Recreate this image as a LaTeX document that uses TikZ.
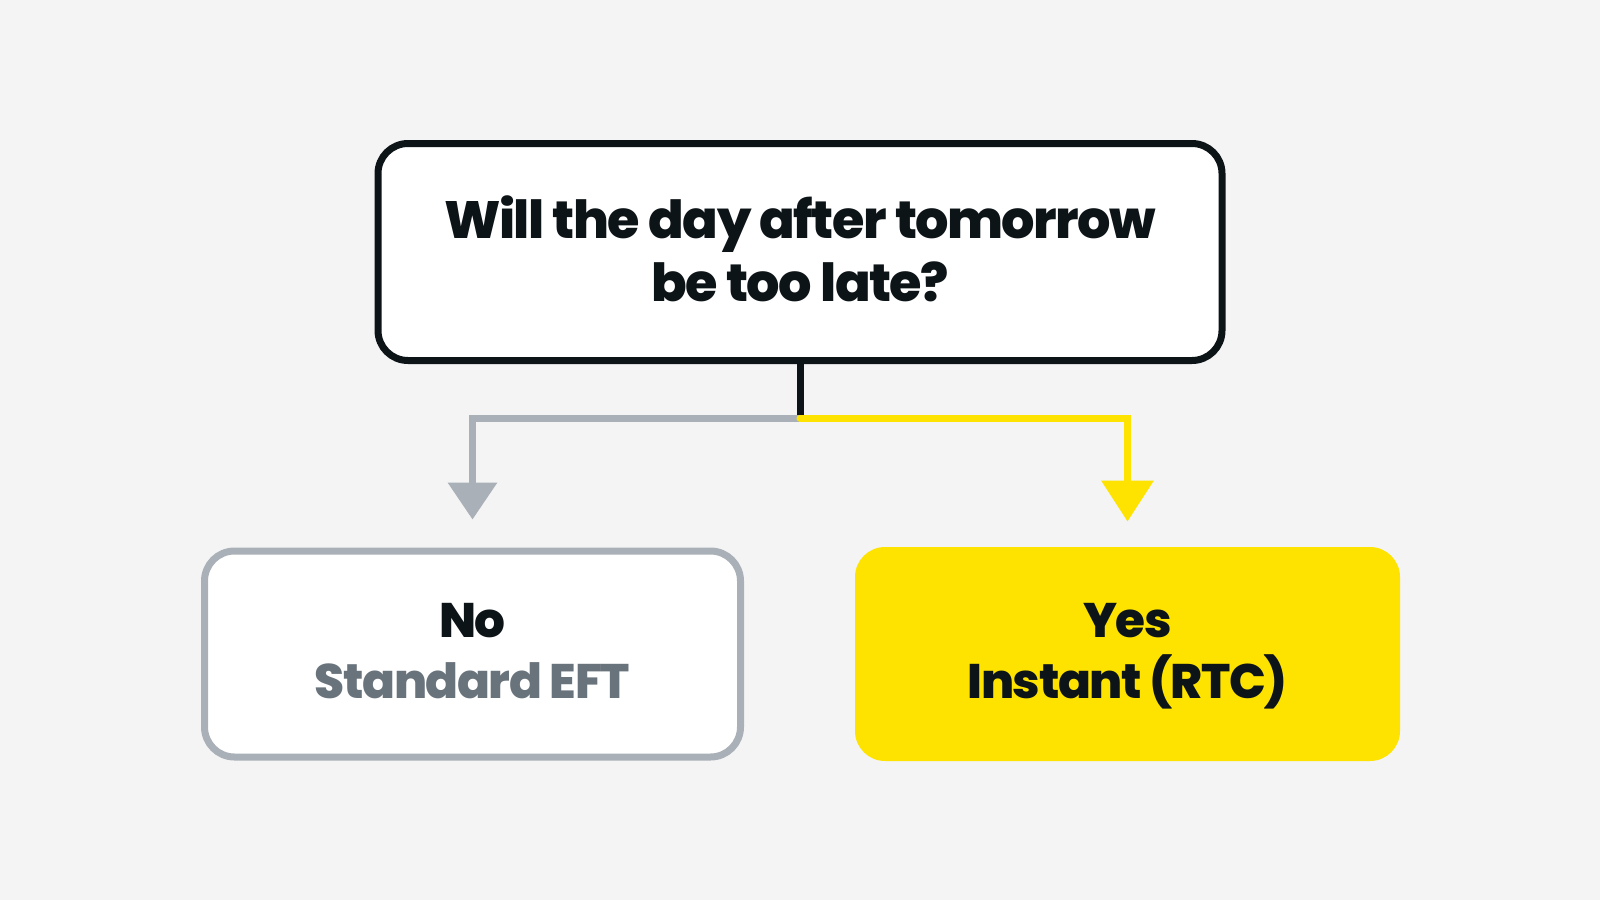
\documentclass[tikz,border=0pt]{standalone}
\usepackage{fontspec}
\setmainfont{Poppins}[BoldFont={Poppins ExtraBold},LetterSpace=-3]
\usepackage{tikz}
\usepackage{color}
\usetikzlibrary{arrows.meta, positioning}

\definecolor{ink}{HTML}{0D1417}
\definecolor{slate}{HTML}{A9B0B8}
\definecolor{slatetext}{HTML}{69737C}
\definecolor{sun}{HTML}{FEE300}
\definecolor{paper}{HTML}{F4F4F4}

\begin{document}
\begin{tikzpicture}[x=1pt,y=-1pt,line width=7pt,
    box/.style={rounded corners=30pt,align=center,inner sep=0pt,text=ink},
    big/.style={font=\fontsize{52.5}{63}\selectfont\bfseries},
    small/.style={font=\fontsize{48.5}{61}\selectfont\bfseries},
    greytip/.style={-{Triangle[width=48pt,length=37pt]}},
    suntip/.style={-{Triangle[width=51pt,length=41pt]}}]
        \fill[paper] (0,0) rectangle (1600,900);

        \node[box,big,draw=ink,fill=white,minimum width=844pt,minimum height=217pt] (n1) at (800,252)
          {Will the day after tomorrow\\be too late?\rule[-6pt]{0pt}{0pt}};
        \node[box,small,draw=slate,fill=white,minimum width=536pt,minimum height=206pt] (n2) at (472.5,654)
          {\rule{0pt}{39pt}No\\\textcolor{slatetext}{Standard EFT}\vphantom{()}};
        \node[box,small,fill=sun,minimum width=545pt,minimum height=214pt] (n3) at (1127.5,654)
          {\rule{0pt}{39pt}Yes\\Instant (RTC)};

        \coordinate (split) at (800,418);

        \draw[ink,line cap=round] (n1.south) -- (split);
        \draw[slate,greytip,shorten >=28pt] (split) -| (n2);
        \draw[sun,suntip,line cap=round,shorten >=22pt] (split) -| (n3);
      \end{tikzpicture}
\end{document}
